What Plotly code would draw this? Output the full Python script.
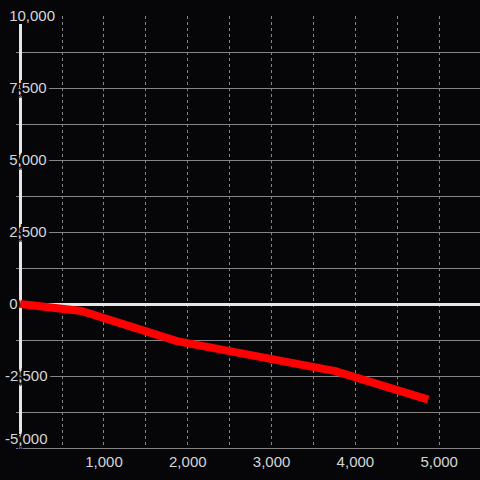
import plotly.graph_objects as go

# Data
x_vals = [0, 730, 1870, 3760, 4870]
y_vals = [0, -240, -1290, -2330, -3320]

y_tickvals = [-5000, -2500, 0, 2500, 5000, 7500, 10000]
y_ticktext = ["-5,000<br>\u00a0", "-2,500", "\u00a00", "\u00a02,500", "\u00a05,000", "\u00a07,500", "\u00a010,000"]
x_tickvals = [1000, 2000, 3000, 4000, 5000]
x_ticktext = ["1,000", "2,000", "3,000", "4,000", "5,000"]

BG = "#060609"
GRID = "#858585"
ZERO = "#e6e6e6"
LABEL = "#d6d6d6"
shadow = ", ".join(f"{dx}px {dy}px 0px {BG}" for dx, dy in [
    (-2, 0), (2, 0), (0, -3), (0, 3), (-2, -3), (2, 3), (-2, 3), (2, -3),
    (-1, -2), (1, 2), (-1, 2), (1, -2), (-3, 0), (3, 0)])

fig = go.Figure()
fig.add_trace(go.Scatter(
    x=x_vals, y=y_vals, mode="lines",
    line=dict(color="#ff0000", width=8),
    hoverinfo="skip", showlegend=False,
))

fig.update_layout(
    width=480, height=480,
    paper_bgcolor=BG, plot_bgcolor=BG,
    margin=dict(l=16, r=0, t=16, b=32),
    showlegend=False,
    font=dict(family="Liberation Sans, Arial, sans-serif", size=15, color=LABEL),
)

fig.update_xaxes(
    range=[-50, 5487],
    tickmode="array", tickvals=x_tickvals, ticktext=x_ticktext,
    showgrid=True, gridcolor=GRID, gridwidth=1, griddash="dot",
    minor=dict(dtick=500, tick0=0, showgrid=True, gridcolor=GRID, gridwidth=1, griddash="dot"),
    zeroline=True, zerolinecolor=ZERO, zerolinewidth=3,
    showline=True, linecolor=GRID, linewidth=1,
    ticks="", tickfont=dict(size=15, color=LABEL),
)

fig.update_yaxes(
    range=[-5000, 10000],
    tickmode="array", tickvals=y_tickvals, ticktext=y_ticktext,
    showgrid=True, gridcolor=GRID, gridwidth=1,
    minor=dict(dtick=1250, tick0=0, showgrid=True, gridcolor=GRID, gridwidth=1),
    zeroline=True, zerolinecolor=ZERO, zerolinewidth=3,
    showline=False, ticks="",
    ticklabelposition="inside", ticklabelstandoff=-14, ticklabeloverflow="allow",
    tickfont=dict(size=15, color=LABEL, shadow=shadow),
)

fig.write_html(
    "out.html",
    config={"displayModeBar": False},
    post_script="document.body.style.margin='0';document.body.style.background='%s';" % BG,
)
